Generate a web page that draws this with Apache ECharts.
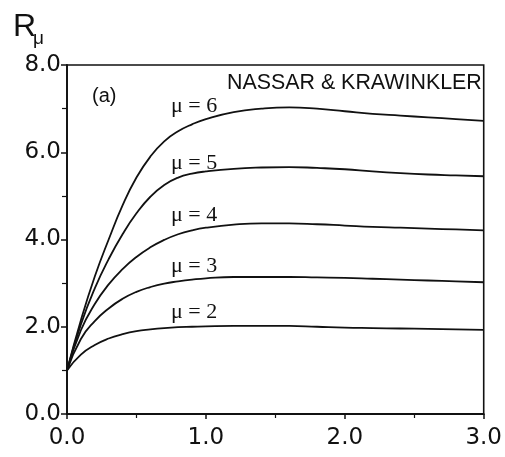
<!DOCTYPE html>
<html>
<head>
<meta charset="utf-8">
<script src="https://cdn.jsdelivr.net/npm/echarts@6/dist/echarts.min.js"></script>
<style>html,body{margin:0;padding:0;background:#fff;}#c{width:505px;height:457px;}</style>
</head>
<body>
<div id="c"></div>
<script>
var xs = [0, 0.1, 0.2, 0.3, 0.4, 0.5, 0.6, 0.7, 0.8, 0.9, 1.0, 1.2, 1.4, 1.6, 1.8, 2.0, 2.2, 2.4, 2.6, 2.8, 3.0];
var mu2 = [1.0, 1.36, 1.58, 1.73, 1.83, 1.90, 1.94, 1.97, 1.99, 2.00, 2.01, 2.02, 2.02, 2.02, 2.00, 1.98, 1.97, 1.96, 1.95, 1.94, 1.93];
var mu3 = [1.0, 1.72, 2.13, 2.42, 2.64, 2.80, 2.91, 2.99, 3.04, 3.08, 3.11, 3.14, 3.14, 3.14, 3.13, 3.12, 3.10, 3.08, 3.06, 3.04, 3.02];
var mu4 = [1.0, 1.92, 2.52, 2.97, 3.32, 3.60, 3.82, 3.99, 4.12, 4.21, 4.27, 4.34, 4.37, 4.37, 4.35, 4.32, 4.29, 4.27, 4.25, 4.23, 4.21];
var mu5 = [1.0, 2.05, 2.88, 3.55, 4.12, 4.60, 4.98, 5.25, 5.42, 5.51, 5.56, 5.62, 5.65, 5.66, 5.64, 5.61, 5.56, 5.52, 5.49, 5.47, 5.45];
var mu6 = [1.0, 2.15, 3.15, 4.00, 4.78, 5.42, 5.90, 6.25, 6.48, 6.64, 6.76, 6.92, 7.00, 7.03, 7.00, 6.94, 6.88, 6.84, 6.80, 6.76, 6.72];
var seriesNames = ['\u03bc = 2', '\u03bc = 3', '\u03bc = 4', '\u03bc = 5', '\u03bc = 6'];
var xTickLabels = ['0.0', '1.0', '2.0', '3.0'];
var yTickLabels = ['0.0', '2.0', '4.0', '6.0', '8.0'];
var allSeries = [mu2, mu3, mu4, mu5, mu6];

function pairs(vals) { return xs.map(function (x, i) { return [x, vals[i]]; }); }

var chart = echarts.init(document.getElementById('c'), null, { renderer: 'canvas' });
var tickFont = { fontFamily: 'DejaVu Sans', fontSize: 23, color: '#111' };
var option = {
  backgroundColor: '#fff',
  animation: false,
  grid: { left: 67, right: 20, top: 65, bottom: 43, show: true, borderColor: '#111', borderWidth: 1.6, backgroundColor: 'transparent' },
  xAxis: {
    type: 'value', min: 0, max: 3, interval: 1,
    axisLine: { show: true, onZero: false, lineStyle: { color: '#111', width: 1.8 } },
    axisTick: { show: true, inside: false, length: 5, lineStyle: { color: '#111', width: 1.5 } },
    minorTick: { show: true, splitNumber: 2, length: 4, lineStyle: { color: '#111', width: 1.2 } },
    splitLine: { show: false },
    axisLabel: Object.assign({ margin: 13, formatter: function (v) { return xTickLabels[Math.round(v)]; } }, tickFont)
  },
  yAxis: {
    type: 'value', min: 0, max: 8, interval: 2,
    axisLine: { show: true, onZero: false, lineStyle: { color: '#111', width: 1.8 } },
    axisTick: { show: true, inside: false, length: 6, lineStyle: { color: '#111', width: 1.5 } },
    minorTick: { show: true, splitNumber: 2, length: 5, lineStyle: { color: '#111', width: 1.2 } },
    splitLine: { show: false },
    axisLabel: Object.assign({ margin: 6, formatter: function (v) { return yTickLabels[Math.round(v / 2)]; } }, tickFont)
  },
  series: allSeries.map(function (vals, i) {
    return {
      name: seriesNames[i], type: 'line', data: pairs(vals), smooth: 0.5, showSymbol: false, symbol: 'none',
      lineStyle: { color: '#111', width: 1.8 }
    };
  }),
  graphic: [
    { type: 'text', left: 13, top: 11, style: { text: 'R', font: '32px "Liberation Sans"', fill: '#111' } },
    { type: 'text', left: 33, top: 29, style: { text: '\u03bc', font: '19px "Liberation Sans"', fill: '#111' } },
    { type: 'text', left: 92, top: 86, style: { text: '(a)', font: '20px "Liberation Sans"', fill: '#111' } },
    { type: 'text', left: 227, top: 73, style: { text: 'NASSAR & KRAWINKLER', font: '21.4px "Liberation Sans"', fill: '#111' } },
    { type: 'text', left: 171, top: 95, style: { text: seriesNames[4], font: '22px "Liberation Serif"', fill: '#111' } },
    { type: 'text', left: 171, top: 152, style: { text: seriesNames[3], font: '22px "Liberation Serif"', fill: '#111' } },
    { type: 'text', left: 171, top: 204, style: { text: seriesNames[2], font: '22px "Liberation Serif"', fill: '#111' } },
    { type: 'text', left: 171, top: 255, style: { text: seriesNames[1], font: '22px "Liberation Serif"', fill: '#111' } },
    { type: 'text', left: 171, top: 301, style: { text: seriesNames[0], font: '22px "Liberation Serif"', fill: '#111' } }
  ]
};
chart.setOption(option);
</script>
</body>
</html>
